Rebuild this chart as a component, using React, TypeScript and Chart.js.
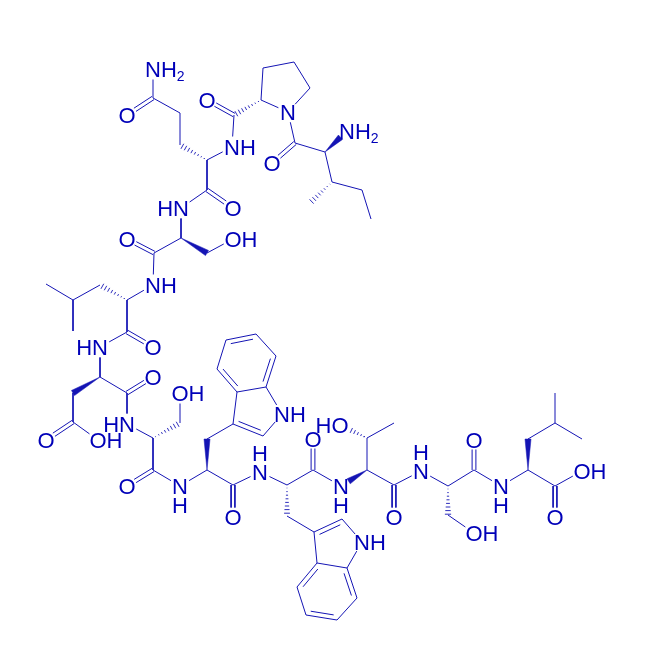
import React, { useEffect, useRef } from "react";
import { Chart, registerables } from "chart.js";

Chart.register(...registerables);

type Atom = [string, number, number];

// Atom positions, residue by residue
const ile: Atom[] = [["iC",295,143],["iO",272,163],["iA",325,152],["iN",347,131],["iB",332,182],["iM",310,203],["iG",362,190],["iD",371,219]];
const pro: Atom[] = [["pN",288,112],["pA",261,100],["pB",263,68],["pG",294,62],["pD",310,88],["pC",234,115],["pO",207,100]];
const gln: Atom[] = [["qN",232,147],["qA",207,160],["qB",180,145],["qG",180,113],["qD",153,98],["qE",127,115],["qF",153,69],["qC",207,190],["qO",233,208]];
const ser1: Atom[] = [["sN",181,208],["sA",181,238],["sB",207,253],["sH",233,239],["sC",154,253],["sO",127,239]];
const leu1: Atom[] = [["lN",153,285],["lA",127,300],["lB",100,285],["lG",73,300],["lD1",46,284],["lD2",73,331],["lC",127,332],["lO",153,347]];
const asp: Atom[] = [["dN",100,347],["dA",100,377],["dB",73,393],["dG",73,422],["dO1",46,440],["dO2",98,440],["dC",127,393],["dO",153,377]];
const ser2: Atom[] = [["eN",127,424],["eA",153,438],["eB",180,423],["eH",180,393],["eC",153,470],["eO",127,486]];
const trp1: Atom[] = [["wN",180,486],["wA",207,470],["wB",207,439],["w3",233,424],["w2",263,436],["w1",282,414],["w7a",266,387],["w3a",237,392],["w4",217,369],["w5",226,340],["w6",256,334],["w7",276,356],["wC",233,485],["wO",233,517]];
const trp2: Atom[] = [["xN",260,472],["xA",287,485],["xB",287,516],["x3",314,532],["x2",342,519],["x1",362,542],["x7a",347,568],["x3a",317,563],["x4",297,587],["x5",306,615],["x6",337,620],["x7",357,598],["xC",313,470],["xO",313,439]];
const thr: Atom[] = [["yN",341,486],["yA",367,470],["yB",367,438],["yH",340,425],["yM",394,423],["yC",394,485],["yO",394,517]];
const ser3: Atom[] = [["zN",421,471],["zA",448,486],["zB",448,515],["zH",474,533],["zC",474,470],["zO",474,440]];
const leu2: Atom[] = [["aN",501,486],["aA",528,470],["aB",528,439],["aG",555,423],["aD1",555,393],["aD2",582,439],["aC",555,486],["aO1",582,471],["aO2",555,517]];

const singleBonds: [string, string][] = [
  ["iC","pN"],["iC","iA"],["iA","iB"],["iB","iG"],["iG","iD"],
  ["pN","pA"],["pA","pB"],["pB","pG"],["pG","pD"],["pD","pN"],["pC","qN"],
  ["qN","qA"],["qB","qG"],["qG","qD"],["qD","qF"],["qA","qC"],["qC","sN"],
  ["sN","sA"],["sB","sH"],["sA","sC"],["sC","lN"],
  ["lN","lA"],["lB","lG"],["lG","lD1"],["lG","lD2"],["lA","lC"],["lC","dN"],
  ["dN","dA"],["dB","dG"],["dG","dO2"],["dA","dC"],["dC","eN"],
  ["eN","eA"],["eB","eH"],["eA","eC"],["eC","wN"],
  ["wN","wA"],["wB","w3"],["w3","w2"],["w2","w1"],["w1","w7a"],["w7a","w3a"],["w3a","w3"],
  ["w3a","w4"],["w4","w5"],["w5","w6"],["w6","w7"],["w7","w7a"],["wA","wC"],["wC","xN"],
  ["xN","xA"],["xB","x3"],["x3","x2"],["x2","x1"],["x1","x7a"],["x7a","x3a"],["x3a","x3"],
  ["x3a","x4"],["x4","x5"],["x5","x6"],["x6","x7"],["x7","x7a"],["xA","xC"],["xC","yN"],
  ["yA","yB"],["yB","yM"],["yA","yC"],["yC","zN"],
  ["zN","zA"],["zB","zH"],["zA","zC"],["zC","aN"],
  ["aN","aA"],["aB","aG"],["aG","aD1"],["aG","aD2"],["aA","aC"],["aC","aO1"],
];
const carbonyls: [string, string][] = [
  ["iC","iO"],["pC","pO"],["qD","qE"],["qC","qO"],["sC","sO"],["lC","lO"],["dG","dO1"],["dC","dO"],
  ["eC","eO"],["wC","wO"],["xC","xO"],["yC","yO"],["zC","zO"],["aC","aO2"],
];
const ringDoubles: [string, string, string][] = [
  ["w2","w3","w7a"],["w3a","w4","w6"],["w5","w6","w3a"],["w7","w7a","w5"],
  ["x2","x3","x7a"],["x3a","x4","x6"],["x5","x6","x3a"],["x7","x7a","x5"],
];
const wedgeBonds: [string, string][] = [["sA","sB"],["dA","dB"],["wA","wB"],["iA","iN"],["yA","yN"],["aA","aB"]];
const hashBonds: [string, string][] = [["pA","pC"],["qA","qB"],["lA","lB"],["eA","eB"],["xA","xB"],["yB","yH"],["iB","iM"],["zA","zB"]];

// Labels: the first glyph (or the last for "end") is centred on its atom
const startLabels: [string, string][] = [
  ["iN","NH"],["iO","O"],["pN","N"],["pO","O"],["qN","NH"],["qE","O"],["qF","NH"],["qO","O"],
  ["sH","OH"],["sO","O"],["lN","NH"],["lO","O"],["dO1","O"],["dO2","OH"],["dO","O"],
  ["eH","OH"],["eO","O"],["wN","N"],["w1","NH"],["wO","O"],["xN","N"],["x1","NH"],["xO","O"],
  ["yN","N"],["yO","O"],["zN","N"],["zH","OH"],["zO","O"],["aN","N"],["aO1","OH"],["aO2","O"],
];
const endLabels: [string, string][] = [["sN","HN"],["dN","HN"],["eN","HN"],["yH","HO"]];
const hydrogenBelow: string[] = ["wN","yN","aN"];
const hydrogenAbove: string[] = ["xN","zN"];
const subscriptAtoms: string[] = ["iN","qF"];

const BLUE = "#0000b8";
const BOND_BLUE = "#1414b4";
const FONT_FAMILY = '"Liberation Sans", Arial, sans-serif';
const atoms: Record<string, [number, number]> = {};
[ile, pro, gln, ser1, leu1, asp, ser2, trp1, trp2, thr, ser3, leu2].forEach((list) =>
  list.forEach(([n, x, y]) => { atoms[n] = [x, y]; })
);
const hetero = new Set<string>([...startLabels, ...endLabels].map((l) => l[0]));

function ends(a: string, b: string, gap = 10.5) {
  const [ax, ay] = atoms[a];
  const [bx, by] = atoms[b];
  const len = Math.hypot(bx - ax, by - ay);
  const ux = (bx - ax) / len;
  const uy = (by - ay) / len;
  const sa = hetero.has(a) ? gap : 0;
  const sb = hetero.has(b) ? gap : 0;
  return { x1: ax + ux * sa, y1: ay + uy * sa, x2: bx - ux * sb, y2: by - uy * sb, ux, uy };
}

const lineSet = (data: { x: number; y: number }[], width = 1) => ({
  data, showLine: true, pointRadius: 0, borderColor: BOND_BLUE, backgroundColor: BOND_BLUE,
  borderWidth: width, fill: false as any, spanGaps: false, tension: 0,
});

function buildDatasets() {
  const sets: any[] = [];
  singleBonds.forEach(([a, b]) => {
    const e = ends(a, b);
    sets.push(lineSet([{ x: e.x1, y: e.y1 }, { x: e.x2, y: e.y2 }]));
  });
  carbonyls.forEach(([a, b]) => {
    const e = ends(a, b, 9.5);
    [-1.9, 1.9].forEach((o) => {
      const px = -e.uy * o;
      const py = e.ux * o;
      sets.push(lineSet([{ x: e.x1 + px, y: e.y1 + py }, { x: e.x2 + px, y: e.y2 + py }]));
    });
  });
  ringDoubles.forEach(([a, b, side]) => {
    const e = ends(a, b, 0);
    const [sx, sy] = atoms[side];
    const cross = e.ux * (sy - e.y1) - e.uy * (sx - e.x1);
    const o = cross > 0 ? 4.5 : -4.5;
    const len = Math.hypot(e.x2 - e.x1, e.y2 - e.y1);
    const t = len * 0.13;
    const px = -e.uy * o;
    const py = e.ux * o;
    sets.push(lineSet([{ x: e.x1 + px + e.ux * t, y: e.y1 + py + e.uy * t }, { x: e.x2 + px - e.ux * t, y: e.y2 + py - e.uy * t }]));
  });
  wedgeBonds.forEach(([a, b]) => {
    const e = ends(a, b, 9);
    const [ax, ay] = atoms[a];
    const s = { ...lineSet([
      { x: ax, y: ay },
      { x: e.x2 - e.uy * 3, y: e.y2 + e.ux * 3 },
      { x: e.x2 + e.uy * 3, y: e.y2 - e.ux * 3 },
      { x: ax, y: ay },
    ], 0.5), fill: "shape" };
    sets.push(s);
  });
  hashBonds.forEach(([a, b]) => {
    const e = ends(a, b, 9);
    const len = Math.hypot(e.x2 - e.x1, e.y2 - e.y1);
    const data: { x: number; y: number }[] = [];
    const step = 3.6;
    for (let d = 3; d <= len; d += step) {
      const w = (d / len) * 3.2;
      const cx = e.x1 + e.ux * d;
      const cy = e.y1 + e.uy * d;
      data.push({ x: cx - e.uy * w, y: cy + e.ux * w }, { x: cx + e.uy * w, y: cy - e.ux * w }, { x: NaN, y: NaN });
    }
    sets.push(lineSet(data, 0.9));
  });
  return sets;
}

const labelPlugin = {
  id: "atomLabels",
  afterDatasetsDraw(chart: any) {
    const { ctx, scales } = chart;
    const px = (n: string) => [scales.x.getPixelForValue(atoms[n][0]), scales.y.getPixelForValue(atoms[n][1])];
    ctx.save();
    ctx.fillStyle = BLUE;
    ctx.textBaseline = "alphabetic";
    const mainFont = `22px ${FONT_FAMILY}`;
    ctx.font = mainFont;
    const capShift = 7.8;
    startLabels.forEach(([n, text]) => {
      const [x, y] = px(n);
      ctx.textAlign = "left";
      ctx.fillText(text, x - ctx.measureText(text[0]).width / 2, y + capShift);
    });
    endLabels.forEach(([n, text]) => {
      const [x, y] = px(n);
      ctx.textAlign = "right";
      ctx.fillText(text, x + ctx.measureText(text[text.length - 1]).width / 2, y + capShift);
    });
    ctx.textAlign = "center";
    hydrogenBelow.forEach((n) => { const [x, y] = px(n); ctx.fillText("H", x, y + 19 + capShift); });
    hydrogenAbove.forEach((n) => { const [x, y] = px(n); ctx.fillText("H", x, y - 19 + capShift); });
    subscriptAtoms.forEach((n) => {
      const [x, y] = px(n);
      const left = x - ctx.measureText("N").width / 2 + ctx.measureText("NH").width;
      ctx.font = `14px ${FONT_FAMILY}`;
      ctx.textAlign = "left";
      ctx.fillText("2", left, y + capShift + 4);
      ctx.font = mainFont;
    });
    ctx.restore();
  },
};

export default function App() {
  const ref = useRef<HTMLCanvasElement>(null);
  useEffect(() => {
    const chart = new Chart(ref.current!, {
      type: "scatter",
      data: { datasets: buildDatasets() },
      options: {
        animation: false,
        responsive: false,
        devicePixelRatio: 1,
        layout: { padding: 0 },
        plugins: { legend: { display: false }, tooltip: { enabled: false }, title: { display: false } },
        scales: {
          x: { type: "linear", min: 0, max: 657, display: false },
          y: { type: "linear", min: 0, max: 657, reverse: true, display: false },
        },
      },
      plugins: [labelPlugin],
    } as any);
    return () => chart.destroy();
  }, []);
  return (
    <canvas
      ref={ref}
      width={657}
      height={657}
      style={{ position: "absolute", left: 0, top: 0, width: 657, height: 657, background: "#fff" }}
    />
  );
}
